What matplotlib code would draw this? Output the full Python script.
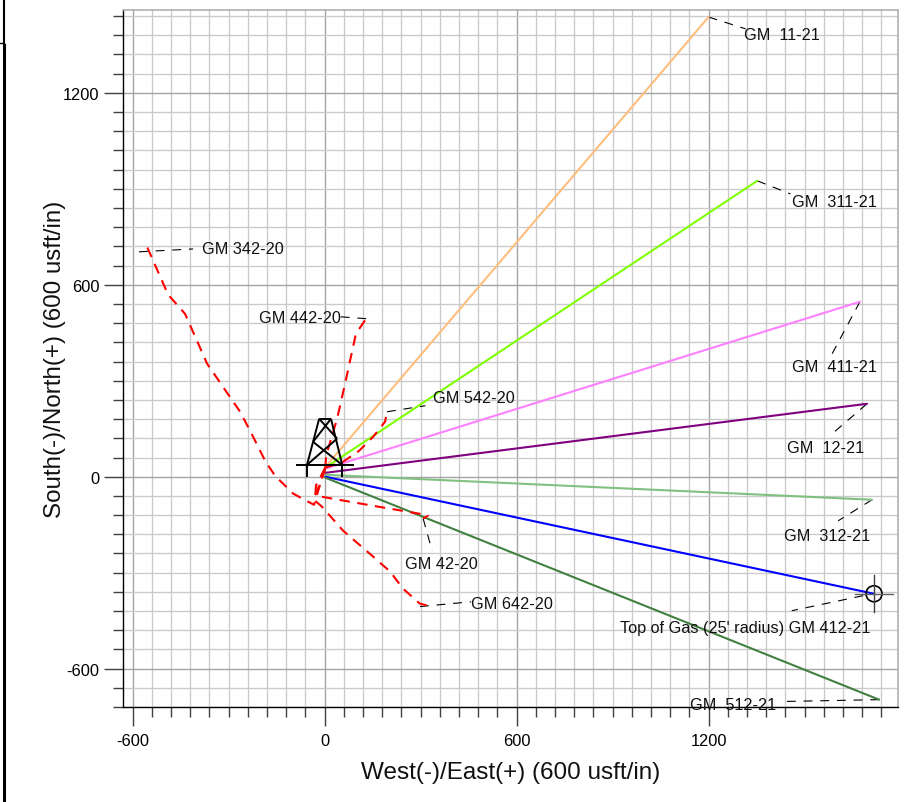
import matplotlib
matplotlib.use("Agg")
import matplotlib.pyplot as plt
from matplotlib.lines import Line2D
from matplotlib.patches import Circle

plt.rcParams['font.family'] = ['Liberation Sans', 'DejaVu Sans']
plt.rcParams['axes.unicode_minus'] = False

# solid wells: name, colour, east, north
well_names = ["GM 11-21", "GM 311-21", "GM 411-21", "GM 12-21", "GM 312-21", "GM 412-21", "GM 512-21"]
well_colors = ["#ffbe7d", "#7fff00", "#ff80ff", "#800080", "#80c080", "#0000ff", "#408040"]
well_east = [[2, 1200], [2, 1352], [2, 1673], [2, 1695], [2, 1711], [2, 1717], [2, 1733]]
well_north = [[30, 1437], [28, 925], [25, 547], [12, 228], [6, -72], [0, -366], [-3, -697]]

# dashed red wells
d342_e = [2, -20, -33, -98, -155, -186, -233, -264, -367, -436, -489, -555, -558]
d342_n = [28, -44, -88, -53, 3, 50, 144, 203, 353, 509, 569, 719, 703]
d442_e = [2, 5, 39, 64, 98, 127, 111]
d442_n = [28, 66, 181, 291, 447, 490, 497]
d542_e = [2, 58, 108, 152, 189, 195]
d542_n = [28, 47, 81, 125, 172, 203]
d42_e = [2, -17, -30, 152, 298, 323, 308]
d42_n = [25, -28, -59, -91, -116, -122, -131]
d642_e = [2, -27, -30, -8, 58, 152, 205, 245, 298, 323, 311]
d642_n = [28, -28, -75, -94, -169, -250, -297, -350, -397, -403, -403]

# leader lines
lead_e = [[1200, 1316], [1352, 1456], [1673, 1586], [1695, 1586], [1711, 1605], [1683, 1460], [1733, 1421],
          [-580, -411], [130, 48], [195, 315], [308, 336], [298, 458]]
lead_n = [[1437, 1400], [925, 884], [547, 384], [228, 134], [-72, -138], [-372, -419], [-697, -703],
          [703, 712], [494, 500], [203, 222], [-131, -232], [-406, -391]]

# labels
label_text = ["GM  11-21", "GM  311-21", "GM  411-21", "GM  12-21", "GM  312-21",
              "Top of Gas (25' radius) GM 412-21", "GM  512-21", "GM 342-20", "GM 442-20",
              "GM 542-20", "GM 42-20", "GM 642-20"]
label_e = [1311, 1461, 1461, 1445, 1436, 923, 1142, -383, -205, 339, 252, 458]
label_n = [1382, 861, 345, 92, -183, -471, -711, 714, 498, 248, -271, -396]

# rig symbol segments
rig_e = [[-89, 92], [-55, -55], [55, 55], [-55, -17], [55, 20], [-17, 20], [-17, 39], [20, -36], [-36, 55], [39, -55]]
rig_n = [[37, 37], [37, 0], [37, 0], [37, 181], [37, 181], [181, 181], [181, 119], [181, 109], [109, 37], [119, 37]]

target_e, target_n, target_r, target_arm = 1717, -366, 25, 58

x_major = [-600, 0, 600, 1200]
y_major = [-600, 0, 600, 1200]
x_minor = list(range(-600, 1741, 60))
y_minor = list(range(-720, 1441, 60))

fig = plt.figure(figsize=(9.06, 8.03), dpi=100)
ax = fig.add_axes([123 / 906, 1 - 708 / 803, (898 - 123) / 906, (708 - 11) / 803])
ax.set_xlim(-630, 1792)
ax.set_ylim(-720, 1459)

ax.set_xticks(x_major)
ax.set_yticks(y_major)
ax.set_xticks(x_minor, minor=True)
ax.set_yticks(y_minor, minor=True)
ax.grid(True, which='minor', color='#cacaca', lw=0.95, zorder=0)
ax.grid(True, which='major', color='#a4a4a4', lw=1.0, zorder=0)
ax.set_axisbelow(True)
ax.tick_params(which='major', length=14, width=1, color='#404040', labelsize=11.8, pad=3)
ax.tick_params(axis='x', which='major', pad=5)
ax.tick_params(which='minor', length=7.2, width=1, color='#404040')
for s in ('top', 'right'):
    ax.spines[s].set_color('#b0b0b0')
    ax.spines[s].set_linewidth(1.2)
for s in ('left', 'bottom'):
    ax.spines[s].set_color('black')
    ax.spines[s].set_linewidth(1)
ax.set_xlabel("West(-)/East(+) (600 usft/in)", fontsize=17.5, labelpad=9, color='#111111')
ax.set_ylabel("South(-)/North(+) (600 usft/in)", fontsize=17.4, labelpad=-2, color='#111111')

for e, n in zip(lead_e, lead_n):
    ax.plot(e, n, color='black', lw=0.8, dashes=(8, 7), zorder=2)

for e, n, c in zip(well_east, well_north, well_colors):
    ax.plot(e, n, color=c, lw=1.5, zorder=3, solid_capstyle='round')

for e, n in [(d342_e, d342_n), (d442_e, d442_n), (d542_e, d542_n), (d42_e, d42_n), (d642_e, d642_n)]:
    ax.plot(e, n, color='#ff0000', lw=1.5, dashes=(5, 3.6), zorder=4)

for e, n in zip(rig_e, rig_n):
    ax.plot(e, n, color='black', lw=1.4, zorder=5, solid_capstyle='butt')

ax.add_patch(Circle((target_e, target_n), target_r, fill=False, ec='black', lw=1.2, zorder=6))
ax.plot([target_e, target_e], [target_n - target_arm, target_n + target_arm], color='#404040', lw=1, zorder=6)
ax.plot([target_e - target_arm, target_e + target_arm], [target_n, target_n], color='#606060', lw=1, zorder=6)

for t, e, n in zip(label_text, label_e, label_n):
    ax.text(e, n, t, fontsize=11.7, va='center', ha='left', color='#111111', zorder=7)

fig.add_artist(Line2D([4 / 906, 4 / 906], [1 - 44 / 803, 1], color='black', lw=1.5))
fig.add_artist(Line2D([3.5 / 906, 3.5 / 906], [0, 1 - 46 / 803], color='black', lw=2.2))
fig.add_artist(Line2D([0, 4 / 906], [1 - 44 / 803, 1 - 44 / 803], color='black', lw=1))

fig.savefig("out.png", dpi=100)
